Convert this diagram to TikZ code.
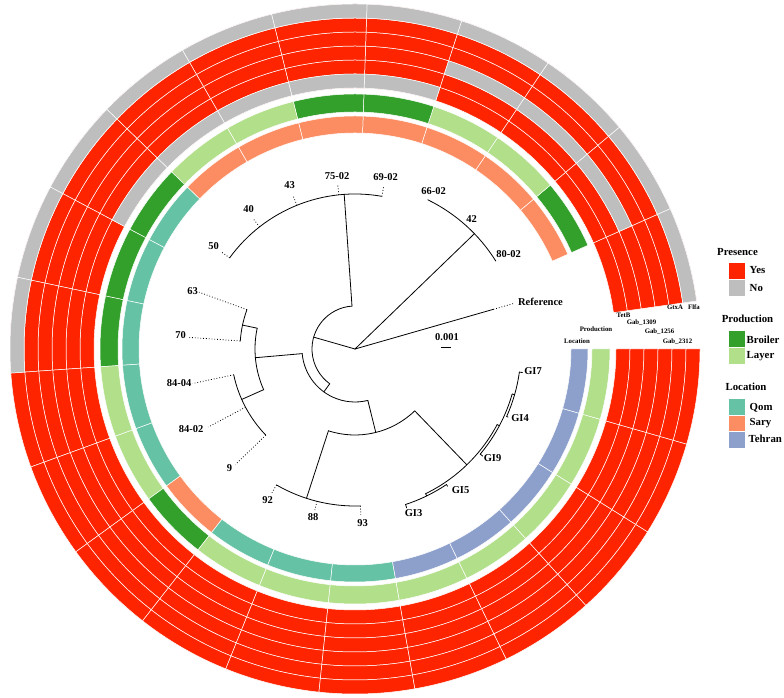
\documentclass[tikz,border=0pt]{standalone}
\usepackage{fontspec}
\setmainfont{Liberation Serif}
\usetikzlibrary{calc}
\definecolor{yesred}{RGB}{255,36,0}
\definecolor{nogray}{RGB}{190,190,190}
\definecolor{broiler}{RGB}{51,160,44}
\definecolor{layer}{RGB}{178,223,138}
\definecolor{qom}{RGB}{102,194,165}
\definecolor{sary}{RGB}{252,141,98}
\definecolor{tehran}{RGB}{141,160,203}
\newcommand{\ringseg}[4]{%
  \pgfmathsetmacro{\rsA}{8+16*#1}%
  \pgfmathsetmacro{\rsB}{24+16*#1}%
  \fill[#4,draw=white,line width=0.5pt] (\rsA:#2pt) arc[start angle=\rsA,end angle=\rsB,radius=#2pt]
    -- (\rsB:#3pt) arc[start angle=\rsB,end angle=\rsA,radius=#3pt] -- cycle;}
\begin{document}
\begin{tikzpicture}[x=1pt,y=1pt,
  tree/.style={line width=0.8pt,line cap=round},
  leader/.style={dotted,line width=0.8pt},
  leaflab/.style={inner sep=0pt,font=\bfseries\fontsize{10.5}{12}\selectfont},
  ringlab/.style={inner sep=0pt,font=\bfseries\fontsize{6.8}{8}\selectfont},
  legtitle/.style={inner sep=0pt,font=\bfseries\fontsize{10.8}{12}\selectfont},
  legtext/.style={inner sep=0pt,anchor=west,font=\bfseries\fontsize{10.8}{12}\selectfont},
  legbox/.style={draw=white,line width=0.5pt,minimum width=17pt,minimum height=17pt,inner sep=0pt}]
\useasboundingbox (0,0) rectangle (784,698);
\fill[white] (0,0) rectangle (784,698);

\begin{scope}[shift={(355,349)}]
% ---------- presence rings ----------
\foreach \k in {1,...,6}{\foreach \i in {0,...,21}{%
  \pgfmathsetmacro{\ra}{247+14*\k}\pgfmathsetmacro{\rb}{261+14*\k}%
  \ringseg{\i}{\ra}{\rb}{yesred}}}
\foreach \i in {0,...,10}{\ringseg{\i}{331}{345}{nogray}}
\foreach \i in {1,2,3}{\ringseg{\i}{289}{303}{nogray}}
\foreach \i in {4,...,8}{\ringseg{\i}{261}{275}{nogray}}
% ---------- production ring ----------
\foreach \i/\c in {1/broiler,2/layer,3/layer,4/broiler,5/broiler,6/layer,7/layer,8/broiler,9/broiler,10/broiler,11/layer,12/layer,13/broiler,14/layer,15/layer,16/layer,17/layer,18/layer,19/layer,20/layer,21/layer}{\ringseg{\i}{237}{255}{\c}}
% ---------- location ring ----------
\foreach \i/\c in {1/sary,2/sary,3/sary,4/sary,5/sary,6/sary,7/sary,8/qom,9/qom,10/qom,11/qom,12/qom,13/sary,14/qom,15/qom,16/qom,17/tehran,18/tehran,19/tehran,20/tehran,21/tehran}{\ringseg{\i}{216}{233}{\c}}

% ---------- tree ----------
\coordinate (root) at (0,0);
\coordinate (nA) at (44:166pt);
\coordinate (nB) at (164:43pt);
\coordinate (nC) at (94:155pt);
\coordinate (nE) at (234:53pt);
\coordinate (nF) at (185:100pt);
\coordinate (nG) at (168:115pt);
\coordinate (nH) at (204:124pt);
\coordinate (nD) at (284:86pt);
\coordinate (nI) at (252:157pt);
\coordinate (nJ) at (314:161pt);
\coordinate (nK) at (296:163.5pt);
\coordinate (nM) at (332:163.5pt);
\coordinate (nN) at (344:166pt);

\draw[tree] (root) -- (16:144pt);
\draw[tree] (root) -- (nA);
\draw[tree] (32:166pt) arc[start angle=32,end angle=64,radius=166pt];
\draw[tree] (root) -- (nB);
\draw[tree] (94:43pt) arc[start angle=94,end angle=234,radius=43pt];
\draw[tree] (94:43pt) -- (nC);
\draw[tree] (80:155pt) arc[start angle=80,end angle=144,radius=155pt];
\draw[tree] (234:43pt) -- (nE);
\draw[tree] (185:53pt) arc[start angle=185,end angle=284,radius=53pt];
\draw[tree] (185:53pt) -- (nF);
\draw[tree] (168:100pt) arc[start angle=168,end angle=204,radius=100pt];
\draw[tree] (168:100pt) -- (nG);
\draw[tree] (160:115pt) arc[start angle=160,end angle=176,radius=115pt];
\draw[tree] (204:100pt) -- (nH);
\draw[tree] (192:124pt) arc[start angle=192,end angle=224,radius=124pt];
\draw[tree] (284:53pt) -- (nD);
\draw[tree] (252:86pt) arc[start angle=252,end angle=314,radius=86pt];
\draw[tree] (252:86pt) -- (nI);
\draw[tree] (240:157pt) arc[start angle=240,end angle=272,radius=157pt];
\draw[tree] (314:86pt) -- (nJ);
\draw[tree] (296:161pt) arc[start angle=296,end angle=332,radius=161pt];
\draw[tree] (296:161pt) -- (nK);
\draw[tree] (288:163.5pt) arc[start angle=288,end angle=304,radius=163.5pt];
\draw[tree] (288:163.5pt) -- (288:167pt);
\draw[tree] (304:163.5pt) -- (304:165.5pt);
\draw[tree] (332:161pt) -- (nM);
\draw[tree] (320:163.5pt) arc[start angle=320,end angle=344,radius=163.5pt];
\draw[tree] (320:163.5pt) -- (320:166.5pt);
\draw[tree] (344:163.5pt) -- (nN);
\draw[tree] (336:166pt) arc[start angle=336,end angle=352,radius=166pt];
\draw[tree] (336:166pt) -- (336:167.5pt);
\draw[tree] (352:166pt) -- (352:169pt);

% ---------- leaves: tips, leaders, labels ----------
\foreach \nm/\ang/\tr/\lx/\ly in {Reference/16/144/540.5/302, 80-02/32/166/508.5/254, 42/48/166/471.5/219,
  66-02/64/166/433.5/191, 69-02/80/155/385.5/177, 75-02/96/155/337/176, 43/112/155/289.5/185,
  40/128/155/248.5/209, 50/144/155/213.5/246, 63/160/115/192.5/291, 70/176/115/180.5/335,
  84-04/192/124/179/383, 84-02/208/124/191/429, 9/224/124/229.5/468, 92/240/157/267.5/500,
  88/256/157/313/517, 93/272/157/362.5/523, GI3/288/167/413.5/513, GI5/304/165.5/460.5/490,
  GI9/320/166.5/492.5/458, GI4/336/167.5/520/418, GI7/352/169/533/371}{%
  \coordinate (t-\nm) at (\ang:\tr pt);
  \coordinate (e-\nm) at (\ang:166pt);
  \pgfmathsetmacro{\lr}{\tr<164 ? 1 : 0}%
  \ifdim\lr pt>0.5pt \draw[leader] (t-\nm) -- (e-\nm);\fi
  \node[leaflab] (l-\nm) at ({\lx-355},{349-\ly}) {\nm};
}

% scale bar
\node[leaflab] (scale) at ({447-355},{349-337}) {0.001};
\coordinate (sbL) at ({441-355},{349-347});
\coordinate (sbR) at ({451-355},{349-347});
\draw[line width=0.8pt] (sbL) -- (sbR);
\end{scope}

% ---------- ring labels ----------
\node[ringlab] (lab-tetb) at (623.5,{698-315}) {TetB};
\node[ringlab] (lab-g1309) at (641.5,{698-323}) {Gab\_1309};
\node[ringlab] (lab-g1256) at (659.5,{698-332}) {Gab\_1256};
\node[ringlab] (lab-g2312) at (677.5,{698-342}) {Gab\_2312};
\node[ringlab] (lab-gtxa) at (675,{698-307}) {GtxA};
\node[ringlab] (lab-flfa) at (694,{698-307}) {Flfa};
\node[ringlab] (lab-prod) at (596,{698-329}) {Production};
\node[ringlab] (lab-loc) at (577,{698-341}) {Location};

% ---------- legend ----------
\node[legtitle] (lg-pres) at (737.5,{698-252}) {Presence};
\node[legbox,fill=yesred] (bx-yes) at (736.5,{698-270.5}) {};
\node[legbox,fill=nogray] (bx-no) at (736.5,{698-287.5}) {};
\node[legtext] (tx-yes) at (749.5,{698-270}) {Yes};
\node[legtext] (tx-no) at (749.5,{698-288}) {No};

\node[legtitle] (lg-prod) at (747.5,{698-319}) {Production};
\node[legbox,fill=broiler] (bx-br) at (736.5,{698-339}) {};
\node[legbox,fill=layer] (bx-la) at (736.5,{698-356}) {};
\node[legtext] (tx-br) at (746.5,{698-340}) {Broiler};
\node[legtext] (tx-la) at (746.5,{698-356}) {Layer};

\node[legtitle] (lg-loc) at (746,{698-387}) {Location};
\node[legbox,fill=qom] (bx-qo) at (737,{698-407}) {};
\node[legbox,fill=sary] (bx-sa) at (737,{698-423.5}) {};
\node[legbox,fill=tehran] (bx-te) at (737,{698-440}) {};
\node[legtext] (tx-qo) at (749.5,{698-408}) {Qom};
\node[legtext] (tx-sa) at (749.5,{698-423}) {Sary};
\node[legtext] (tx-te) at (748.5,{698-439}) {Tehran};
\end{tikzpicture}
\end{document}
